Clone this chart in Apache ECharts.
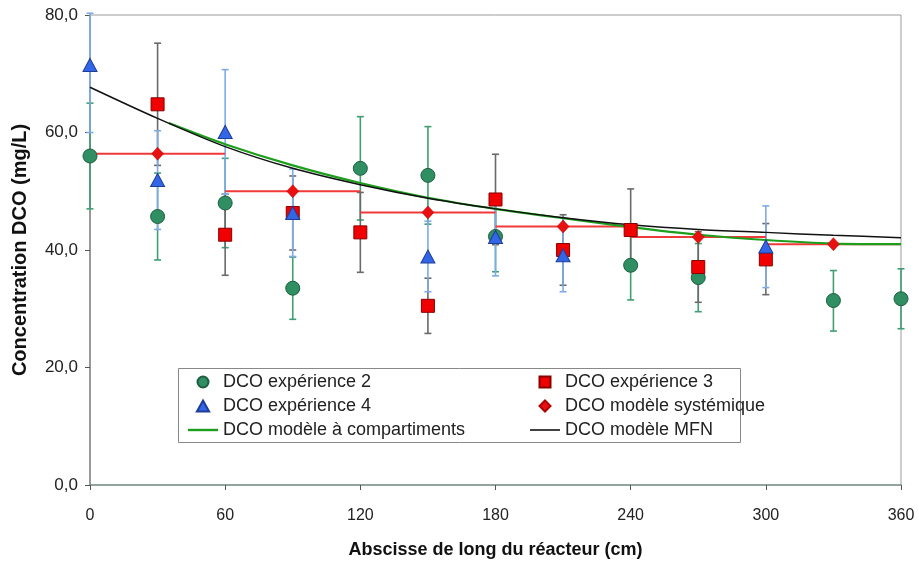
<!DOCTYPE html>
<html>
<head>
<meta charset="utf-8">
<script src="https://cdn.jsdelivr.net/npm/echarts@6/dist/echarts.min.js"></script>
<style>html,body{margin:0;padding:0;background:#fff}#c{width:919px;height:562px}</style>
</head>
<body>
<div id="c"></div>
<script>
// ---- data ----
const xTickLabels = ['0','60','120','180','240','300','360'];
const yTickLabels = ['0,0','20,0','40,0','60,0','80,0'];

const xExp2  = [0, 30, 60, 90, 120, 150, 180, 240, 270, 330, 360];
const exp2   = [56.0, 45.7, 48.0, 33.5, 53.9, 52.7, 42.3, 37.4, 35.3, 31.4, 31.7];
const exp2Lo = [47.0, 38.3, 40.4, 28.2, 45.1, 44.4, 36.3, 31.5, 29.5, 26.2, 26.6];
const exp2Hi = [65.0, 53.1, 55.6, 38.8, 62.7, 61.0, 48.3, 43.3, 41.1, 36.5, 36.8];

const xExp3  = [30, 60, 90, 120, 150, 180, 210, 240, 270, 300];
const exp3   = [64.8, 42.6, 46.3, 43.0, 30.5, 48.6, 40.0, 43.4, 37.1, 38.4];
const exp3Lo = [54.4, 35.7, 40.0, 36.2, 25.8, 40.9, 34.0, 36.4, 31.1, 32.4];
const exp3Hi = [75.2, 49.5, 52.6, 49.8, 35.2, 56.3, 46.0, 50.4, 43.1, 44.5];

const xExp4  = [0, 30, 60, 90, 150, 180, 210, 300];
const exp4   = [71.5, 51.9, 60.1, 46.3, 38.9, 42.2, 39.1, 40.6];
const exp4Lo = [60.0, 43.5, 49.5, 38.9, 32.9, 35.6, 32.9, 33.6];
const exp4Hi = [80.3, 60.3, 70.7, 53.8, 44.9, 48.6, 45.5, 47.5];

const xSys = [30, 90, 150, 210, 270, 330];
const sys  = [56.4, 50.0, 46.4, 44.0, 42.2, 41.0];
const sysEdges = [0, 60, 120, 180, 240, 300, 360];

const xComp = [35, 60, 90, 120, 150, 180, 210, 240, 270, 300, 330, 360];
const comp  = [61.6, 58.0, 54.4, 51.4, 48.9, 47.0, 45.4, 43.9, 42.6, 41.7, 41.1, 41.0];

const xMfn = [0, 30, 60, 90, 120, 150, 180, 210, 240, 270, 300, 330, 360];
const mfn  = [67.7, 62.4, 57.6, 53.9, 51.1, 48.8, 47.0, 45.5, 44.3, 43.5, 43.0, 42.5, 42.1];

const names = ['DCO expérience 2','DCO expérience 3','DCO expérience 4','DCO modèle systémique','DCO modèle à compartiments','DCO modèle MFN'];

// ---- helpers ----
const zip = (xs, ys) => xs.map((x, i) => [x, ys[i]]);
const zip3 = (xs, lo, hi) => xs.map((x, i) => [x, lo[i], hi[i]]);
function errSeries(id, data, color) {
  return {
    type: 'custom', name: id, z: 2, data: data,
    encode: { x: 0, y: [1, 2] },
    renderItem: function (params, api) {
      const x = api.value(0);
      const a = api.coord([x, api.value(1)]);
      const b = api.coord([x, api.value(2)]);
      const w = 3.5;
      const st = { stroke: color, lineWidth: 1.6 };
      return { type: 'group', children: [
        { type: 'line', shape: { x1: a[0], y1: a[1], x2: b[0], y2: b[1] }, style: st },
        { type: 'line', shape: { x1: a[0]-w, y1: a[1], x2: a[0]+w, y2: a[1] }, style: st },
        { type: 'line', shape: { x1: b[0]-w, y1: b[1], x2: b[0]+w, y2: b[1] }, style: st }
      ]};
    }
  };
}
const stepData = [];
sys.forEach((v, i) => { stepData.push([sysEdges[i], v], [sysEdges[i+1], v], [sysEdges[i+1], '-']); });

const FONT = 'Liberation Sans, Arial, sans-serif';
const legendText = { fontFamily: FONT, fontSize: 18, lineHeight: 20, color: '#222' };
const chart = echarts.init(document.getElementById('c'), null, { renderer: 'canvas' });
chart.setOption({
  animation: false,
  backgroundColor: '#fff',
  grid: { left: 90, right: 18, top: 15, bottom: 77, outerBoundsMode: 'none', containLabel: false,
          show: true, borderColor: '#9a9a9a', borderWidth: 1 },
  xAxis: {
    type: 'value', min: 0, max: 360, interval: 60,
    name: 'Abscisse de long du réacteur (cm)', nameLocation: 'middle', nameGap: 56,
    nameTextStyle: { fontFamily: FONT, fontSize: 18, fontWeight: 'bold', color: '#111' },
    axisLine: { lineStyle: { color: '#7f9591', width: 1.5 } },
    axisTick: { show: true, inside: false, length: 5, lineStyle: { color: '#555' } },
    axisLabel: { fontFamily: FONT, fontSize: 16, color: '#222', margin: 23,
      formatter: (v) => xTickLabels[Math.round(v / 60)] },
    splitLine: { show: false }
  },
  yAxis: {
    type: 'value', min: 0, max: 80, interval: 20,
    name: 'Concentration DCO (mg/L)', nameLocation: 'middle', nameGap: 60, nameRotate: 90,
    nameTextStyle: { fontFamily: FONT, fontSize: 20, fontWeight: 'bold', color: '#111' },
    axisLine: { show: true, lineStyle: { color: '#888', width: 1.5 } },
    axisTick: { show: true, inside: false, length: 5, lineStyle: { color: '#555' } },
    axisLabel: { fontFamily: FONT, fontSize: 17, color: '#222', margin: 12,
      formatter: (v) => yTickLabels[Math.round(v / 20)] },
    splitLine: { show: false }
  },
  legend: [
    { orient: 'vertical', left: 188, top: 372, padding: 0, itemWidth: 30, itemHeight: 11, itemGap: 4, symbolKeepAspect: true,
      textStyle: legendText,
      data: [ { name: names[0], icon: 'circle' },
              { name: names[2], icon: 'path://M5 0L10 9L0 9Z' },
              { name: names[4], icon: 'path://M0 0H30V2.4H0Z' } ] },
    { orient: 'vertical', left: 530, top: 372, padding: 0, itemWidth: 30, itemHeight: 11, itemGap: 4, symbolKeepAspect: true,
      textStyle: legendText,
      data: [ { name: names[1], icon: 'path://M0 0H10V10H0Z' },
              { name: names[3], icon: 'path://M5 0L10 5L5 10L0 5Z' },
              { name: names[5], icon: 'path://M0 0H30V1.6H0Z' } ] }
  ],
  graphic: [
    { type: 'rect', left: 178, top: 368, shape: { width: 562, height: 74 }, z: 0,
      style: { fill: '#fff', stroke: '#888', lineWidth: 1 } }
  ],
  series: [
    errSeries('err2', zip3(xExp2, exp2Lo, exp2Hi), '#3f9e74'),
    errSeries('err3', zip3(xExp3, exp3Lo, exp3Hi), '#6a6a6a'),
    errSeries('err4', zip3(xExp4, exp4Lo, exp4Hi), '#7eaae6'),
    { type: 'scatter', name: names[0], data: zip(xExp2, exp2), symbol: 'circle', symbolSize: 14, z: 4,
      itemStyle: { color: '#2f8f62', borderColor: '#1e5e40', borderWidth: 1, opacity: 1 } },
    { type: 'scatter', name: names[1], data: zip(xExp3, exp3), symbol: 'rect', symbolSize: 13, z: 4,
      itemStyle: { color: '#f00000', borderColor: '#8a0000', borderWidth: 1, opacity: 1 } },
    { type: 'scatter', name: names[2], data: zip(xExp4, exp4), symbol: 'triangle', symbolSize: [14, 13], z: 4,
      itemStyle: { color: '#3366e6', borderColor: '#1d3d99', borderWidth: 1, opacity: 1 } },
    { type: 'scatter', name: names[3], data: zip(xSys, sys), symbol: 'diamond', symbolSize: [12, 13], z: 4,
      itemStyle: { color: '#e81010', borderColor: '#b00000', borderWidth: 0.5, opacity: 1 } },
    { type: 'line', name: names[3], data: stepData, symbol: 'none', connectNulls: false, z: 3,
      lineStyle: { color: '#f03a3a', width: 2 }, itemStyle: { color: '#e81010' } },
    { type: 'line', name: names[4], data: zip(xComp, comp), symbol: 'none', smooth: 0.3, z: 3,
      lineStyle: { color: '#1d9e1d', width: 2.2 }, itemStyle: { color: '#1d9e1d' } },
    { type: 'line', name: names[5], data: zip(xMfn, mfn), symbol: 'none', smooth: 0.3, z: 3,
      lineStyle: { color: '#111', width: 1.5 }, itemStyle: { color: '#111' } }
  ]
});
</script>
</body>
</html>
